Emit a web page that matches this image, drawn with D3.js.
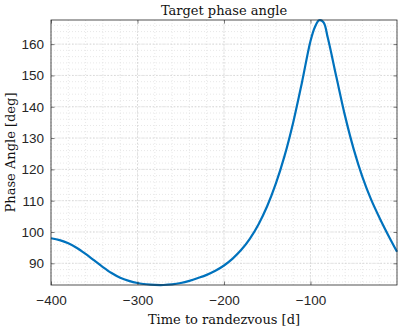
<!DOCTYPE html>
<html>
<head>
<meta charset="utf-8">
<script src="https://cdn.jsdelivr.net/npm/d3@7"></script>
<style>
  html, body { margin: 0; padding: 0; background: #fff; }
  svg { display: block; }
</style>
</head>
<body>
<svg width="399" height="329"></svg>
<script>
// Time to randezvous [d]
const days = [-400, -390, -380, -370, -360, -350, -340, -330, -320, -310,
              -300, -290, -280, -270, -260, -250, -240, -230, -220, -210,
              -200, -190, -180, -170, -160, -150, -140, -130, -120, -110,
              -100, -95, -90, -85, -80, -70, -60, -50, -40, -30, -20, -10, 0];
// Phase angle [deg]
const phase = [98.0, 97.4, 96.4, 94.9, 93.0, 90.9, 88.8, 86.9, 85.4, 84.4,
               83.7, 83.3, 83.1, 83.07, 83.25, 83.7, 84.4, 85.3, 86.3, 87.6,
               89.3, 91.5, 94.3, 97.9, 102.5, 108.3, 115.5, 124.3, 135.0, 147.6,
               161.0, 165.4, 167.6, 167.0, 162.0, 149.4, 137.0, 126.4, 117.6, 110.4, 104.4, 98.9, 93.7];
const xTicks = [-400, -300, -200, -100];
const yTicks = [90, 100, 110, 120, 130, 140, 150, 160];

const svg = d3.select("svg");
const m = { left: 51, right: 397, top: 20, bottom: 285 };

const x = d3.scaleLinear().domain([-400, 0]).range([m.left, m.right]);
const y = d3.scaleLinear().domain([83.07, 167.7]).range([m.bottom, m.top]);

// Minor grid (dotted)
const g = svg.append("g");
g.selectAll(".vminor")
    .data(d3.range(-400, 1, 20))
    .enter().append("line")
    .attr("x1", d => x(d)).attr("x2", d => x(d))
    .attr("y1", m.top).attr("y2", m.bottom)
    .attr("stroke", "#d8d8d8").attr("stroke-width", 0.6)
    .attr("stroke-dasharray", "1,2");
g.selectAll(".hminor")
    .data(d3.range(84, 168, 2))
    .enter().append("line")
    .attr("x1", m.left).attr("x2", m.right)
    .attr("y1", d => y(d)).attr("y2", d => y(d))
    .attr("stroke", "#d8d8d8").attr("stroke-width", 0.6)
    .attr("stroke-dasharray", "1,2");

// Major grid
g.selectAll(".vmajor")
    .data(xTicks)
    .enter().append("line")
    .attr("x1", d => x(d)).attr("x2", d => x(d))
    .attr("y1", m.top).attr("y2", m.bottom)
    .attr("stroke", "#cfcfcf").attr("stroke-width", 0.6)
    .attr("stroke-dasharray", "2,1.5");
g.selectAll(".hmajor")
    .data(yTicks)
    .enter().append("line")
    .attr("x1", m.left).attr("x2", m.right)
    .attr("y1", d => y(d)).attr("y2", d => y(d))
    .attr("stroke", "#cfcfcf").attr("stroke-width", 0.6)
    .attr("stroke-dasharray", "2,1.5");

// Curve
const line = d3.line()
    .x((d, i) => x(days[i]))
    .y(d => y(d))
    .curve(d3.curveCatmullRom.alpha(0.5));
svg.append("path")
    .datum(phase)
    .attr("d", line)
    .attr("fill", "none")
    .attr("stroke", "#0072BD")
    .attr("stroke-width", 2.2);

// Axes (box with inward ticks)
const axCol = "#262626";
const tickStyle = sel => {
    sel.select(".domain").remove();
    sel.selectAll(".tick line").attr("stroke", axCol).attr("stroke-width", 0.6);
};
svg.append("g")
    .attr("transform", `translate(0,${m.bottom})`)
    .call(d3.axisBottom(x).tickValues(xTicks).tickSizeInner(-3.5).tickSizeOuter(0).tickPadding(10))
    .call(tickStyle)
    .call(s => s.selectAll("text").attr("font-family", "Liberation Sans, Arial, sans-serif")
        .attr("font-size", 13.5).attr("fill", axCol));
svg.append("g")
    .attr("transform", `translate(0,${m.top})`)
    .call(d3.axisTop(x).tickValues(xTicks).tickSizeInner(-3.5).tickSizeOuter(0).tickFormat(""))
    .call(tickStyle);
svg.append("g")
    .attr("transform", `translate(${m.left},0)`)
    .call(d3.axisLeft(y).tickValues(yTicks).tickSizeInner(-3.5).tickSizeOuter(0).tickPadding(7))
    .call(tickStyle)
    .call(s => s.selectAll("text").attr("font-family", "Liberation Sans, Arial, sans-serif")
        .attr("font-size", 13.5).attr("fill", axCol));
svg.append("g")
    .attr("transform", `translate(${m.right},0)`)
    .call(d3.axisRight(y).tickValues(yTicks).tickSizeInner(-3.5).tickSizeOuter(0).tickFormat(""))
    .call(tickStyle);

svg.append("rect")
    .attr("x", m.left).attr("y", m.top)
    .attr("width", m.right - m.left).attr("height", m.bottom - m.top)
    .attr("fill", "none").attr("stroke", axCol).attr("stroke-width", 0.8);

// Labels
const serif = "DejaVu Serif, Liberation Serif, serif";
svg.append("text")
    .attr("x", (m.left + m.right) / 2).attr("y", 15)
    .attr("text-anchor", "middle")
    .attr("font-family", serif).attr("font-size", 13)
    .attr("fill", "#111")
    .text("Target phase angle");
svg.append("text")
    .attr("x", (m.left + m.right) / 2).attr("y", 324)
    .attr("text-anchor", "middle")
    .attr("font-family", serif).attr("font-size", 13)
    .attr("fill", "#111")
    .text("Time to randezvous [d]");
svg.append("text")
    .attr("transform", `translate(15,${(m.top + m.bottom) / 2}) rotate(-90)`)
    .attr("text-anchor", "middle")
    .attr("font-family", serif).attr("font-size", 13)
    .attr("fill", "#111")
    .text("Phase Angle [deg]");
</script>
</body>
</html>
